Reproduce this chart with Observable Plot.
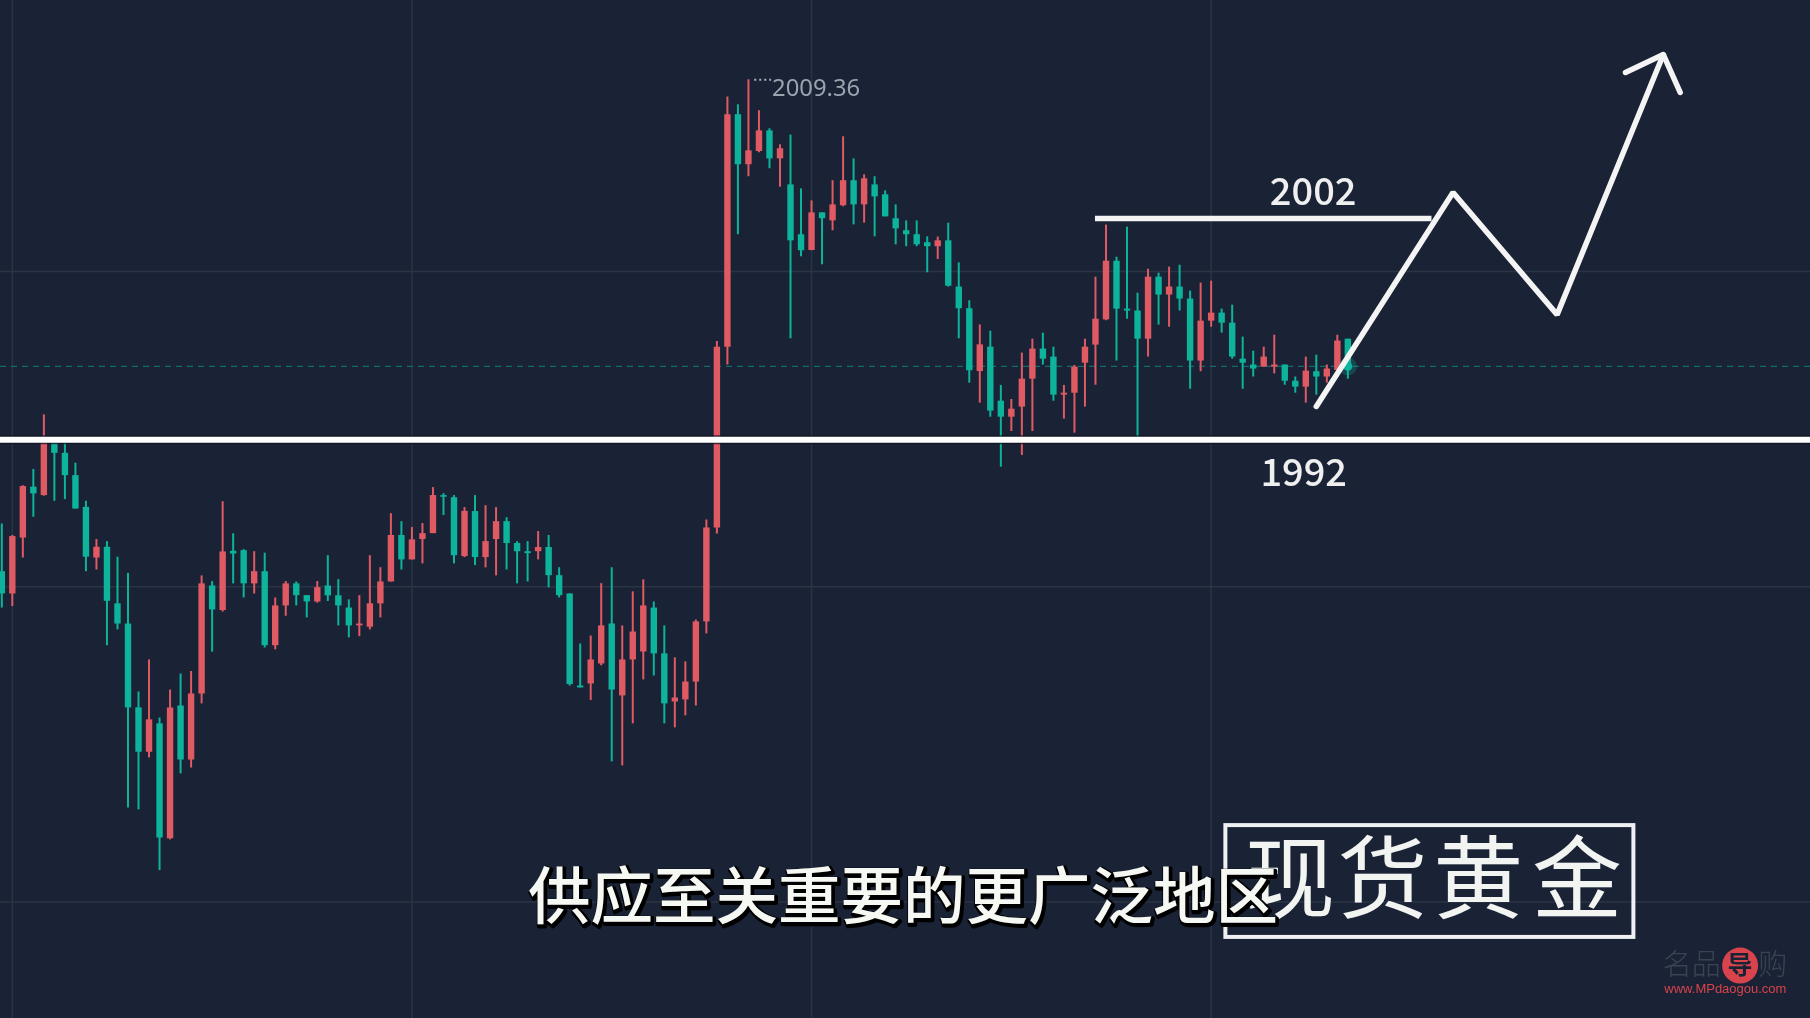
<!DOCTYPE html>
<html><head><meta charset="utf-8">
<script src="https://cdn.jsdelivr.net/npm/d3@7"></script>
<script src="https://cdn.jsdelivr.net/npm/@observablehq/plot@0.6"></script>
<style>html,body{margin:0;padding:0;background:#1a2335;overflow:hidden}svg{display:block;filter:blur(0.45px)}</style>
</head><body><div id="c"></div>
<script>
const highs=[1987.99,1987.44,1989.81,1990.58,1993.18,1991.99,1991.96,1990.88,1989.07,1987.25,
1987.15,1986.41,1985.64,1980.00,1981.52,1978.76,1980.09,1980.85,1980.97,1985.52,
1985.25,1989.05,1987.52,1986.77,1986.67,1986.60,1984.47,1985.25,1985.23,1984.58,
1985.25,1986.48,1985.34,1984.38,1984.58,1986.48,1985.91,1988.48,1988.10,1987.82,
1988.01,1989.72,1989.43,1989.34,1988.77,1989.34,1988.86,1988.77,1988.29,1987.15,
1987.15,1987.63,1987.44,1985.91,1984.66,1982.28,1982.66,1985.15,1985.91,1983.14,
1984.76,1985.33,1984.28,1983.14,1981.62,1981.43,1983.42,1988.18,1996.67,2008.30,
2007.93,2009.12,2007.65,2006.79,2006.03,2006.49,2003.93,2003.36,2002.79,2004.32,
2006.41,2005.36,2004.60,2004.51,2003.84,2003.17,2002.41,2002.41,2001.65,2001.64,
2002.30,2000.41,1998.61,1997.46,1997.16,1994.58,1993.91,1996.12,1996.78,1997.07,
1996.40,1994.58,1995.53,1996.78,1999.73,2002.21,2000.68,2002.11,1998.97,2000.11,
1999.92,2000.21,2000.30,1999.07,1999.45,1999.54,1998.21,1998.40,1996.88,1996.21,
1996.40,1996.97,1995.55,1994.98,1995.93,1996.02,1995.55,1996.97,1996.78];
const lows=[1983.99,1984.06,1986.37,1988.31,1989.31,1989.07,1989.15,1988.70,1985.72,1985.80,
1982.20,1982.95,1974.48,1974.39,1976.86,1971.50,1972.96,1976.10,1976.38,1979.43,
1981.89,1983.80,1985.14,1984.47,1984.66,1982.09,1982.00,1983.60,1984.09,1983.52,
1984.22,1984.30,1983.14,1982.57,1982.63,1982.95,1983.52,1985.23,1985.80,1986.28,
1986.09,1987.53,1988.39,1986.09,1986.39,1986.01,1985.90,1985.52,1985.80,1985.14,
1985.23,1986.28,1984.95,1984.47,1980.28,1980.19,1979.59,1981.24,1976.67,1976.48,
1978.48,1980.57,1980.76,1978.48,1978.29,1978.86,1979.33,1982.76,1987.51,1995.55,
2001.75,2004.51,2005.65,2004.89,2004.01,1996.80,2000.70,2000.99,2000.32,2001.94,
2003.08,2002.22,2002.30,2001.65,2002.60,2001.27,2001.18,2001.18,1999.94,2000.57,
1999.26,1996.80,1994.69,1993.74,1993.07,1990.69,1992.39,1991.25,1992.39,1995.55,
1993.83,1992.98,1992.31,1993.55,1994.59,1997.66,1995.74,1997.73,1991.93,1995.93,
1997.45,1997.35,1998.12,1994.40,1995.23,1997.35,1997.07,1995.83,1994.40,1994.98,
1995.45,1995.13,1994.59,1994.21,1993.74,1994.12,1994.69,1994.98,1994.88];
const bodyTops=[1985.72,1987.39,1989.77,1989.74,1991.99,1991.88,1991.35,1990.29,1988.78,1986.88,
1986.88,1984.19,1983.23,1979.24,1978.67,1978.48,1979.24,1979.33,1979.90,1985.14,
1985.04,1986.66,1986.69,1986.72,1985.72,1985.72,1984.09,1985.14,1985.14,1984.58,
1984.96,1985.04,1984.57,1983.99,1983.23,1984.19,1985.23,1987.44,1987.44,1987.23,
1987.53,1989.34,1989.34,1989.24,1988.59,1988.58,1987.15,1988.10,1988.10,1987.06,
1986.67,1986.87,1986.87,1985.53,1984.66,1980.28,1981.52,1983.14,1983.23,1981.52,
1982.85,1984.09,1983.99,1981.81,1979.71,1980.47,1983.33,1987.80,1996.40,2007.46,
2007.46,2005.74,2006.69,2006.69,2005.84,2004.12,2001.75,2002.79,2002.79,2003.17,
2004.32,2004.32,2004.41,2004.12,2003.65,2002.51,2001.94,2001.75,2001.37,2001.46,
2001.46,1999.26,1998.23,1996.51,1996.40,1993.83,1993.45,1994.88,1996.31,1996.31,
1995.93,1994.21,1995.45,1996.40,1997.73,2000.49,2000.49,1998.21,1998.12,1999.73,
1999.73,1999.26,1999.26,1998.69,1997.64,1998.02,1998.02,1997.54,1995.83,1995.55,
1995.93,1995.55,1995.55,1994.78,1995.26,1995.23,1995.36,1996.69,1996.78];
const bodyBottoms=[1984.66,1984.66,1987.32,1989.42,1989.34,1991.35,1990.29,1988.70,1986.41,1986.37,
1984.31,1983.23,1979.24,1977.13,1977.13,1973.05,1973.01,1976.76,1976.76,1979.90,
1983.90,1983.87,1986.56,1985.14,1985.14,1982.20,1982.20,1984.09,1984.58,1984.28,
1984.28,1984.57,1984.09,1983.14,1983.14,1983.08,1984.19,1985.23,1986.28,1986.28,
1987.25,1987.53,1989.26,1986.48,1986.44,1986.39,1986.39,1987.25,1987.06,1986.67,
1986.58,1986.67,1985.53,1984.58,1980.35,1980.19,1980.38,1981.33,1980.09,1979.81,
1981.52,1981.90,1981.81,1979.43,1979.52,1979.62,1980.47,1983.33,1987.80,1996.40,
2005.08,2005.08,2005.71,2005.36,2005.36,2001.46,2000.99,2001.00,2002.51,2002.41,
2003.13,2003.17,2003.17,2003.55,2002.60,2002.03,2001.75,2001.27,2001.18,2001.18,
1999.30,1998.23,1995.28,1995.24,1993.36,1993.07,1993.07,1993.55,1994.88,1995.83,
1994.12,1994.12,1994.21,1995.64,1996.50,1997.70,1998.21,1998.12,1996.78,1996.78,
1998.88,1998.88,1998.69,1995.74,1995.74,1997.64,1997.54,1995.93,1995.64,1995.36,
1995.45,1995.45,1994.78,1994.50,1994.50,1994.98,1994.98,1995.29,1995.55];
const direction="GRRGRGGGGRGGGGRGRGRRGRGGRGRRGGRGGGRRRRGRRRGGRGRRGGGRGGGGRRGRRRGGRRRRRRGRRGRGGRGRRGRGGGGGGRGGGRGGRRRGGRRRRRGGGRGRGGRRGGGGRRGGRGRRG";
const gridCandles=[1,39,77,115];
const gridPrices=[2000,1985,1970];
const supportPrice=1992, resistancePrice=2002.52;
const lastPrice=1995.49;
const resistanceSpan=[104,136];
const pathCandles=[125,138,147.9,158];
const pathPrices=[1993.58,2003.76,1997.95,2010.32];
const arrowCandles=[154.4,158,159.6];
const arrowPrices=[2009.47,2010.32,2008.52];

const candles=highs.map((h,i)=>({i,high:h,low:lows[i],top:bodyTops[i],bottom:bodyBottoms[i],dir:direction[i]}));
const up="#e05a64", down="#0db39b", bg="#1a2335", grid="#2b3445";
const col=d=>d.dir==="R"?up:down;
const pts=(xs,ys)=>xs.map((x,k)=>({x,y:ys[k]}));
const cjk="'Noto Sans CJK SC'";

const chart=Plot.plot({
  width:1810,height:1018,margin:0,
  style:{background:bg},
  x:{domain:[-0.124,171.994],range:[0,1810],axis:null},
  y:{domain:[1964.463,2012.893],range:[1018,0],axis:null},
  marks:[
    Plot.ruleX(gridCandles,{stroke:grid,strokeWidth:1.5}),
    Plot.ruleY(gridPrices,{stroke:grid,strokeWidth:1.5}),
    Plot.ruleY([lastPrice],{stroke:"#0f7f74",strokeWidth:1.2,strokeDasharray:"6 5",strokeOpacity:.8}),
    Plot.ruleX(candles,{x:"i",y1:"low",y2:"high",stroke:col,strokeWidth:2}),
    Plot.ruleX(candles,{x:"i",y1:"bottom",y2:"top",stroke:col,strokeWidth:6.4}),
    Plot.dot([{x:128,y:lastPrice}],{x:"x",y:"y",r:9,fill:down,fillOpacity:.25}),
    Plot.dot([{x:128,y:lastPrice}],{x:"x",y:"y",r:4.5,fill:down}),
    Plot.ruleY([supportPrice],{stroke:"#0e1420",strokeWidth:9,strokeOpacity:.75}),
    Plot.ruleY([supportPrice],{stroke:"#ffffff",strokeWidth:6}),
    Plot.ruleY([resistancePrice],{x1:resistanceSpan[0],x2:resistanceSpan[1],stroke:"#f4f4f4",strokeWidth:5.5}),
    Plot.line(pts(pathCandles,pathPrices),{x:"x",y:"y",stroke:"#f4f4f4",strokeWidth:5.5,strokeLinejoin:"miter"}),
    Plot.line(pts(arrowCandles,arrowPrices),{x:"x",y:"y",stroke:"#f4f4f4",strokeWidth:5.5,strokeLinejoin:"miter"}),
    Plot.ruleY([2009.12],{x1:71.6,x2:73.2,stroke:"#aab2bb",strokeWidth:2,strokeDasharray:"2 3"}),
    Plot.text(["2009.36"],{x:73.25,y:2008.73,text:d=>d,textAnchor:"start",fontFamily:"'Noto Sans'",fontSize:23.8,fill:"#9aa3ad"}),
    Plot.text(["2002"],{x:124.7,y:2003.75,text:d=>d,fontFamily:cjk,fontWeight:500,fontSize:38,fill:"#efefef"}),
    Plot.text(["1992"],{x:123.8,y:1990.38,text:d=>d,fontFamily:cjk,fontWeight:500,fontSize:38,fill:"#efefef"}),
    // boxed brand label
    Plot.rect([{x1:116.4,x2:155.2,y1:1968.32,y2:1973.64}],{x1:"x1",x2:"x2",y1:"y1",y2:"y2",stroke:"#eef0f2",strokeWidth:4,fill:"none"}),
    Plot.text(["现","货","黄","金"],{x:[122.5,131.3,140.4,149.8],y:[1970.93,1970.93,1970.93,1970.93],text:d=>d,fontFamily:cjk,fontWeight:400,fontSize:90,fill:"#f2f4f2"}),
    // caption
    Plot.text(["供应至关重要的更广泛地区"],{x:85.7,y:1970.13,text:d=>d,dx:1.5,dy:2,fontFamily:cjk,fontWeight:500,fontSize:62.5,fill:"#000",stroke:"#000",strokeWidth:4.5}),
    Plot.text(["供应至关重要的更广泛地区"],{x:85.7,y:1970.13,text:d=>d,fontFamily:cjk,fontWeight:500,fontSize:62.5,fill:"#f6f8f4"}),
    // watermark
    Plot.text(["名品"],{x:160.7,y:1966.98,text:d=>d,fontFamily:cjk,fontWeight:300,fontSize:29,fill:"#3a4352"}),
    Plot.dot([{x:165.3,y:1966.98}],{x:"x",y:"y",r:18,fill:"#d8434c"}),
    Plot.text(["导"],{x:165.3,y:1966.98,text:d=>d,fontFamily:cjk,fontWeight:700,fontSize:25,fill:"#1a2335"}),
    Plot.text(["购"],{x:168.4,y:1966.98,text:d=>d,fontFamily:cjk,fontWeight:300,fontSize:29,fill:"#3a4352"}),
    Plot.text(["www.MPdaogou.com"],{x:163.9,y:1965.89,text:d=>d,fontFamily:"'Liberation Sans'",fontSize:13,fill:"#d8434c"})
  ]
});
document.getElementById("c").appendChild(chart);
</script></body></html>
